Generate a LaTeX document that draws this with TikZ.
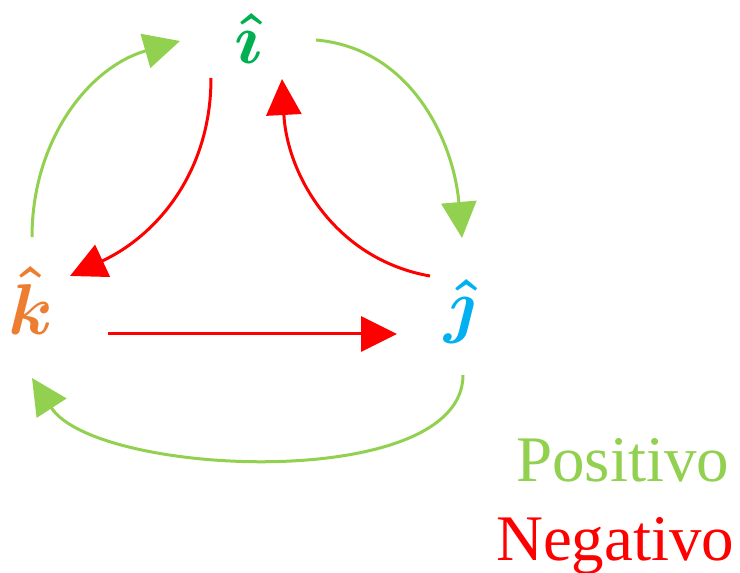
\RequirePackage{fix-cm}
\documentclass[tikz,border=0pt]{standalone}
\usepackage[no-math]{fontspec}
\setmainfont{Liberation Serif}
\usepackage{amsmath}
\usepackage{xcolor}
\usepackage{bm}
\usetikzlibrary{positioning,arrows.meta}

\definecolor{posgreen}{HTML}{92D050}
\definecolor{neggred}{HTML}{FF0000}
\definecolor{icol}{HTML}{00B050}
\definecolor{jcol}{HTML}{00B0F0}
\definecolor{kcol}{HTML}{ED7D31}

\tikzset{
  unitvec/.style={inner sep=0pt,font=\fontsize{72}{72}\selectfont},
  posarrow/.style={draw=posgreen,line width=3pt,-{Triangle[length=36pt,width=35pt]}},
  negarrow/.style={draw=neggred,line width=3pt,-{Triangle[length=36pt,width=35pt]}},
  legend/.style={inner sep=0pt,anchor=base west,font=\fontsize{65}{65}\selectfont}
}

\begin{document}
\begin{tikzpicture}[x=1pt,y=1pt]
\useasboundingbox (0,0) rectangle (740,573);
    \node[unitvec,text=icol] (i) at (249,534) {$\bm{\hat{\imath}}$};
    \node[unitvec,text=kcol,on grid,below left=262pt and 218pt of i] (k) {$\bm{\hat{k}}$};
    \node[unitvec,text=jcol,on grid,below right=273pt and 211pt of i] (j) {$\bm{\hat{\jmath}}$};
    % positive cycle
    \draw[posarrow] ([shift={(1,64)}]k.center) to[out=90,in=196] ([shift={(-69,-2)}]i.center);
    \draw[posarrow] ([shift={(67,-1)}]i.center) to[out=-5,in=95] ([shift={(2,74)}]j.center);
    \draw[posarrow] ([shift={(3,-63)}]j.center) to[out=-90,in=-57,looseness=0.7] ([shift={(1,-77)}]k.center);
    % negative cycle
    \draw[negarrow] ([shift={(-38,-39)}]i.center) to[out=-90,in=25] ([shift={(39,25)}]k.center);
    \draw[negarrow] ([shift={(-30,36)}]j.center) to[out=170,in=-87] ([shift={(33,-40)}]i.center);
    \draw[negarrow] ([shift={(77,-33)}]k.center) -- ([shift={(-63,-22)}]j.center);
    % legend
    \node[legend,text=posgreen] (p) at (516,91) {Positivo};
    \node[legend,text=neggred] (n) at (496,12) {Negativo};
\end{tikzpicture}
\end{document}
